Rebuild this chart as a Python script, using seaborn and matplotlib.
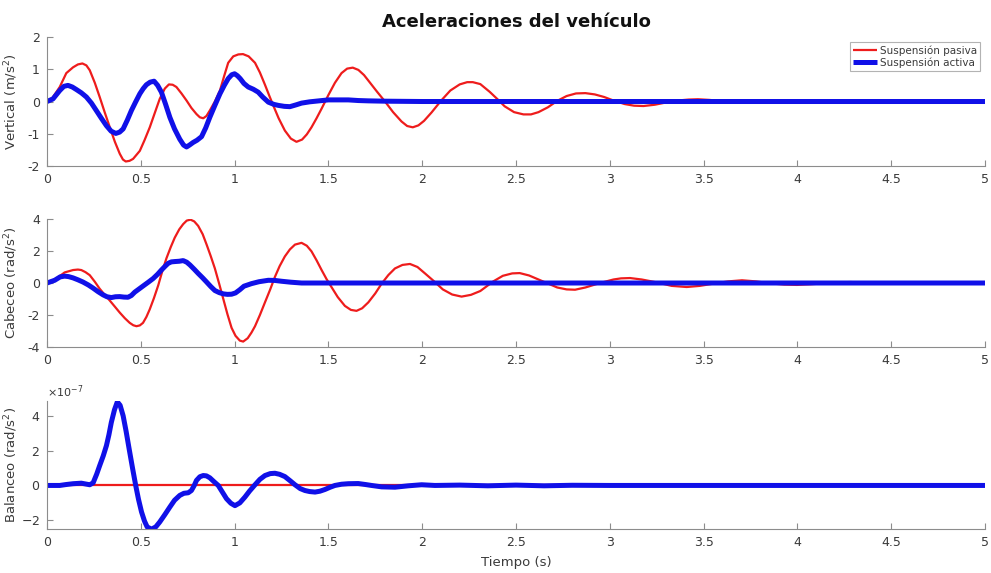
import numpy as np
import pandas as pd
import matplotlib
matplotlib.use("Agg")
import matplotlib.pyplot as plt
import matplotlib.ticker as mticker
import seaborn as sns

# Time (s) and values
# --- Vertical (m/s^2) ---
t_vert_pas = [0.000, 0.030, 0.068, 0.103, 0.139, 0.165, 0.189, 0.210, 0.228, 0.255, 0.281, 0.308,
              0.335, 0.362, 0.388, 0.405, 0.420, 0.440, 0.459, 0.495, 0.520, 0.548, 0.575, 0.601,
              0.628, 0.650, 0.670, 0.690, 0.717, 0.744, 0.770, 0.797, 0.815, 0.833, 0.850, 0.868,
              0.895, 0.922, 0.945, 0.966, 0.993, 1.020, 1.045, 1.075, 1.109, 1.135, 1.162, 1.185,
              1.206, 1.235, 1.268, 1.300, 1.330, 1.360, 1.385, 1.410, 1.437, 1.464, 1.500, 1.535,
              1.570, 1.600, 1.630, 1.660, 1.690, 1.713, 1.760, 1.802, 1.845, 1.890, 1.920, 1.950,
              1.980, 2.010, 2.050, 2.100, 2.150, 2.200, 2.240, 2.270, 2.310, 2.360, 2.400, 2.440,
              2.490, 2.540, 2.580, 2.620, 2.670, 2.720, 2.770, 2.820, 2.870, 2.920, 2.970, 3.020,
              3.080, 3.130, 3.180, 3.240, 3.300, 3.360, 3.420, 3.470, 3.530, 3.600, 3.680, 3.750,
              3.830, 3.900, 4.000, 4.100, 5.000]
v_vert_pas = [0.00, 0.12, 0.45, 0.88, 1.06, 1.15, 1.18, 1.12, 0.97, 0.58, 0.14, -0.34,
              -0.80, -1.25, -1.62, -1.80, -1.86, -1.84, -1.78, -1.53, -1.20, -0.80, -0.35, 0.08,
              0.40, 0.53, 0.52, 0.45, 0.25, 0.03, -0.20, -0.39, -0.49, -0.52, -0.45, -0.28,
              0.00, 0.34, 0.80, 1.20, 1.40, 1.46, 1.47, 1.40, 1.20, 0.90, 0.52, 0.18,
              -0.12, -0.52, -0.90, -1.15, -1.25, -1.18, -1.02, -0.80, -0.52, -0.22, 0.20, 0.58,
              0.88, 1.02, 1.05, 0.98, 0.82, 0.65, 0.30, 0.00, -0.33, -0.62, -0.76, -0.80,
              -0.74, -0.60, -0.34, 0.02, 0.34, 0.53, 0.60, 0.60, 0.54, 0.30, 0.08, -0.15,
              -0.33, -0.40, -0.40, -0.33, -0.18, 0.02, 0.17, 0.25, 0.26, 0.22, 0.14, 0.03,
              -0.08, -0.13, -0.14, -0.10, -0.03, 0.03, 0.06, 0.07, 0.05, 0.01, -0.02, -0.03,
              -0.02, 0.00, 0.01, 0.00, 0.00]

t_vert_act = [0.000, 0.032, 0.068, 0.090, 0.112, 0.135, 0.157, 0.183, 0.210, 0.237, 0.263, 0.290,
              0.317, 0.342, 0.367, 0.387, 0.406, 0.428, 0.450, 0.472, 0.495, 0.513, 0.530, 0.550,
              0.571, 0.590, 0.610, 0.632, 0.655, 0.680, 0.708, 0.728, 0.744, 0.760, 0.779, 0.800,
              0.824, 0.846, 0.868, 0.895, 0.922, 0.945, 0.966, 0.985, 1.000, 1.015, 1.030, 1.050,
              1.073, 1.100, 1.126, 1.150, 1.180, 1.210, 1.233, 1.265, 1.295, 1.330, 1.357, 1.400,
              1.450, 1.500, 1.560, 1.606, 1.660, 1.713, 1.800, 2.000, 5.000]
v_vert_act = [0.00, 0.08, 0.34, 0.47, 0.50, 0.45, 0.37, 0.27, 0.14, -0.05, -0.28, -0.52,
              -0.75, -0.92, -0.99, -0.95, -0.85, -0.58, -0.28, -0.02, 0.24, 0.40, 0.52, 0.60,
              0.63, 0.50, 0.29, -0.08, -0.49, -0.85, -1.17, -1.35, -1.41, -1.35, -1.27, -1.20,
              -1.09, -0.82, -0.49, -0.12, 0.24, 0.50, 0.71, 0.83, 0.86, 0.80, 0.71, 0.56,
              0.45, 0.38, 0.29, 0.14, -0.02, -0.09, -0.12, -0.15, -0.16, -0.10, -0.05, -0.01,
              0.02, 0.05, 0.05, 0.05, 0.03, 0.02, 0.01, 0.00, 0.00]

# --- Cabeceo (rad/s^2) ---
t_cab_pas = [0.000, 0.050, 0.094, 0.139, 0.165, 0.183, 0.205, 0.228, 0.255, 0.281, 0.308, 0.335,
             0.362, 0.388, 0.415, 0.441, 0.460, 0.477, 0.495, 0.512, 0.530, 0.548, 0.570, 0.593,
             0.615, 0.637, 0.660, 0.681, 0.705, 0.726, 0.745, 0.765, 0.785, 0.806, 0.830, 0.851,
             0.873, 0.895, 0.918, 0.940, 0.962, 0.984, 1.005, 1.028, 1.046, 1.070, 1.090, 1.109,
             1.135, 1.162, 1.190, 1.215, 1.240, 1.268, 1.295, 1.322, 1.357, 1.385, 1.410, 1.437,
             1.464, 1.490, 1.517, 1.550, 1.588, 1.620, 1.650, 1.680, 1.713, 1.750, 1.784, 1.820,
             1.855, 1.895, 1.935, 1.975, 2.015, 2.068, 2.110, 2.160, 2.210, 2.260, 2.310, 2.379,
             2.430, 2.480, 2.520, 2.570, 2.620, 2.664, 2.720, 2.770, 2.815, 2.870, 2.948, 3.020,
             3.060, 3.108, 3.170, 3.250, 3.330, 3.410, 3.480, 3.553, 3.630, 3.705, 3.780, 3.856,
             3.930, 3.998, 4.070, 4.140, 4.210, 4.283, 4.360, 4.443, 5.000]
v_cab_pas = [0.00, 0.28, 0.66, 0.81, 0.84, 0.81, 0.68, 0.49, 0.08, -0.36, -0.74, -1.10,
             -1.48, -1.85, -2.20, -2.49, -2.64, -2.70, -2.65, -2.49, -2.12, -1.64, -0.95, -0.15,
             0.75, 1.55, 2.25, 2.83, 3.35, 3.68, 3.90, 3.96, 3.85, 3.57, 3.05, 2.40,
             1.68, 0.91, -0.05, -1.00, -1.95, -2.80, -3.30, -3.60, -3.66, -3.45, -3.10, -2.70,
             -2.00, -1.21, -0.40, 0.38, 1.05, 1.66, 2.10, 2.40, 2.51, 2.33, 1.98, 1.42,
             0.81, 0.25, -0.26, -0.88, -1.43, -1.68, -1.74, -1.58, -1.21, -0.65, -0.04, 0.50,
             0.91, 1.13, 1.19, 1.00, 0.60, 0.06, -0.40, -0.72, -0.85, -0.74, -0.50, 0.10,
             0.45, 0.60, 0.62, 0.47, 0.22, 0.00, -0.28, -0.40, -0.42, -0.28, 0.00, 0.22,
             0.29, 0.31, 0.22, 0.04, -0.18, -0.25, -0.18, -0.04, 0.10, 0.17, 0.10, -0.02,
             -0.10, -0.12, -0.08, -0.02, 0.04, 0.06, 0.03, 0.00, 0.00]

t_cab_act = [0.000, 0.041, 0.070, 0.094, 0.115, 0.139, 0.165, 0.192, 0.220, 0.246, 0.272, 0.299,
             0.320, 0.343, 0.365, 0.388, 0.410, 0.432, 0.450, 0.468, 0.490, 0.512, 0.540, 0.566,
             0.590, 0.610, 0.630, 0.646, 0.663, 0.681, 0.705, 0.726, 0.745, 0.762, 0.785, 0.806,
             0.830, 0.851, 0.873, 0.895, 0.918, 0.940, 0.962, 0.984, 1.005, 1.028, 1.050, 1.090,
             1.130, 1.180, 1.215, 1.250, 1.300, 1.357, 5.000]
v_cab_act = [0.00, 0.17, 0.38, 0.43, 0.40, 0.32, 0.20, 0.06, -0.12, -0.32, -0.54, -0.74,
             -0.86, -0.91, -0.86, -0.85, -0.88, -0.89, -0.78, -0.57, -0.38, -0.19, 0.05, 0.28,
             0.55, 0.81, 1.05, 1.23, 1.32, 1.34, 1.36, 1.40, 1.30, 1.13, 0.86, 0.60,
             0.32, 0.06, -0.22, -0.47, -0.60, -0.68, -0.71, -0.70, -0.62, -0.42, -0.20, -0.04,
             0.08, 0.17, 0.16, 0.11, 0.05, 0.00, 0.00]

# --- Balanceo (rad/s^2), active values in units of 1e-7 ---
t_bal_pas = [0.0, 5.0]
v_bal_pas = [0.0, 0.0]

t_bal_act = [0.000, 0.068, 0.100, 0.139, 0.183, 0.228, 0.246, 0.265, 0.281, 0.300, 0.317, 0.330,
             0.343, 0.360, 0.375, 0.390, 0.406, 0.422, 0.438, 0.456, 0.473, 0.488, 0.504, 0.520,
             0.534, 0.557, 0.580, 0.601, 0.628, 0.655, 0.680, 0.708, 0.730, 0.753, 0.770, 0.785,
             0.797, 0.815, 0.833, 0.850, 0.868, 0.890, 0.913, 0.935, 0.957, 0.980, 1.002, 1.028,
             1.055, 1.080, 1.109, 1.135, 1.162, 1.190, 1.215, 1.240, 1.268, 1.295, 1.322, 1.350,
             1.375, 1.400, 1.429, 1.455, 1.482, 1.510, 1.535, 1.570, 1.606, 1.659, 1.700, 1.730,
             1.784, 1.855, 1.926, 1.997, 2.068, 2.200, 2.350, 2.500, 2.650, 2.800, 3.000, 5.000]
v_bal_act_e7 = [0.00, 0.00, 0.05, 0.10, 0.13, 0.04, 0.15, 0.65, 1.14, 1.70, 2.29, 2.90,
                3.62, 4.35, 4.80, 4.60, 4.00, 3.10, 2.10, 1.00, 0.00, -0.80, -1.52, -2.05,
                -2.38, -2.51, -2.38, -2.10, -1.68, -1.24, -0.85, -0.57, -0.45, -0.42, -0.29, 0.00,
                0.29, 0.50, 0.57, 0.55, 0.44, 0.22, 0.00, -0.38, -0.76, -1.02, -1.16, -1.00,
                -0.67, -0.32, 0.04, 0.35, 0.57, 0.68, 0.70, 0.64, 0.51, 0.28, 0.04, -0.18,
                -0.29, -0.35, -0.38, -0.33, -0.23, -0.10, 0.00, 0.07, 0.10, 0.11, 0.05, 0.00,
                -0.08, -0.10, -0.02, 0.04, 0.00, 0.02, -0.02, 0.02, -0.02, 0.01, 0.00, 0.00]
v_bal_act = list(np.array(v_bal_act_e7) * 1e-7)

labels = ["Suspensión pasiva", "Suspensión activa"]
ylabels = ["Vertical (m/s$^2$)", "Cabeceo (rad/s$^2$)", "Balanceo (rad/s$^2$)"]
xticks = [0, 0.5, 1, 1.5, 2, 2.5, 3, 3.5, 4, 4.5, 5]

red = "#ee1c1c"
blue = "#1010e8"
grey = "#8c8c8c"
txt = "#3a3a3a"

sns.set_theme(style="ticks")
plt.rcParams["font.family"] = ["DejaVu Sans"]
plt.rcParams["axes.unicode_minus"] = False

fig = plt.figure(figsize=(9.91, 5.73), dpi=100)
ax1 = fig.add_axes([0.0474, 0.7103, 0.9465, 0.2251])
ax2 = fig.add_axes([0.0474, 0.3944, 0.9465, 0.2234])
ax3 = fig.add_axes([0.0474, 0.0768, 0.9465, 0.2234])

panels = [
    (ax1, t_vert_pas, v_vert_pas, t_vert_act, v_vert_act, (-2, 2), [-2, -1, 0, 1, 2]),
    (ax2, t_cab_pas, v_cab_pas, t_cab_act, v_cab_act, (-4, 4), [-4, -2, 0, 2, 4]),
    (ax3, t_bal_pas, v_bal_pas, t_bal_act, v_bal_act, (-2.5e-7, 4.85e-7), [-2e-7, 0, 2e-7, 4e-7]),
]

for i, (ax, tp, vp, ta, va, ylim, yt) in enumerate(panels):
    sns.lineplot(x=tp, y=vp, ax=ax, color=red, linewidth=1.6,
                 label=labels[0] if i == 0 else None, legend=(i == 0))
    sns.lineplot(x=ta, y=va, ax=ax, color=blue, linewidth=3.6,
                 label=labels[1] if i == 0 else None, legend=(i == 0))
    ax.set_xlim(0, 5)
    ax.set_ylim(*ylim)
    ax.set_xticks(xticks)
    ax.set_yticks(yt)
    ax.xaxis.set_major_formatter(mticker.FuncFormatter(lambda v, p: f"{v:g}"))
    ax.set_ylabel(ylabels[i], fontsize=9.5, color=txt)
    ax.yaxis.set_label_coords(-0.029, 0.5)
    ax.set_xlabel("")
    ax.tick_params(direction="in", length=4, width=0.8, color=grey,
                   labelsize=9, labelcolor=txt, pad=5)
    sns.despine(ax=ax)
    for s in ["left", "bottom"]:
        ax.spines[s].set_color(grey)
        ax.spines[s].set_linewidth(0.8)

fmt = mticker.ScalarFormatter(useMathText=True)
fmt.set_powerlimits((-3, 3))
ax3.yaxis.set_major_formatter(fmt)
ax3.yaxis.get_offset_text().set_fontsize(8)
ax3.yaxis.get_offset_text().set_color(txt)
ax3.set_xlabel("Tiempo (s)", fontsize=9.5, color=txt, labelpad=5)

leg = ax1.legend(loc="upper right", fontsize=7.5, frameon=True, fancybox=False,
                 handlelength=2.3, handletextpad=0.25, borderpad=0.3, labelspacing=0.15,
                 bbox_to_anchor=(0.9945, 0.96), borderaxespad=0)
leg.get_frame().set_edgecolor("#a0a0a0")
leg.get_frame().set_linewidth(0.8)
for h in leg.get_lines():
    h.set_solid_capstyle("butt")
for tx in leg.get_texts():
    tx.set_color(txt)

fig.text(0.521, 0.962, "Aceleraciones del vehículo", ha="center", va="center",
         fontsize=13, fontweight="bold", color="#111111")

fig.savefig("out.png", dpi=100)
